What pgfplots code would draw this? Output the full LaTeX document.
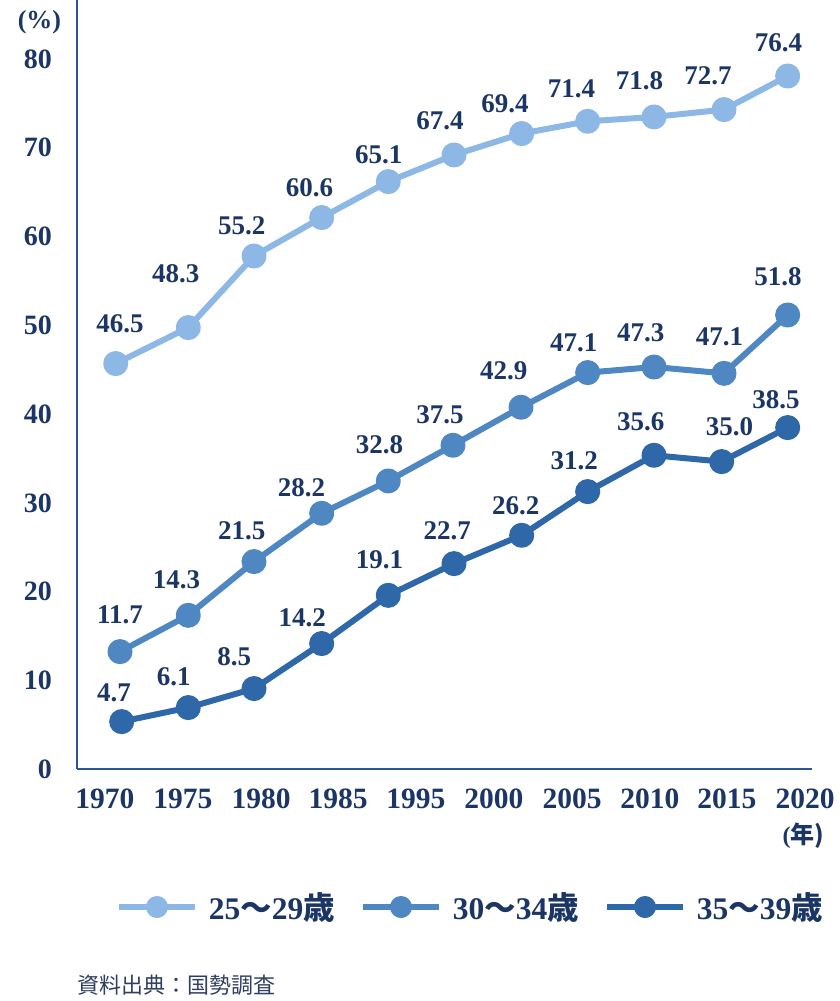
\documentclass[border=0pt]{standalone}
\usepackage{fontspec}
\setmainfont{Liberation Serif}
\newfontfamily\cjk{Noto Sans CJK JP}
\usepackage{pgfplots}
\usepackage{pgfplotstable}
\pgfplotsset{compat=1.18}
\definecolor{cA}{HTML}{8DB8E6}
\definecolor{cB}{HTML}{4F87C2}
\definecolor{cC}{HTML}{2E68A8}
\definecolor{navy}{HTML}{1B3564}
\definecolor{axc}{HTML}{2B5797}
\definecolor{srcc}{HTML}{2F3F5F}

\pgfplotstableread{
x y
-0.004 45.69
1.076 49.74
2.054 57.80
3.061 62.13
4.052 66.18
5.030 69.18
6.037 71.59
7.019 72.97
8.006 73.46
9.048 74.29
9.995 78.07
}\sA
\pgfplotstableread{
x y
0.060 13.25
1.076 17.34
2.054 23.39
3.061 28.83
4.052 32.47
5.015 36.49
6.027 40.77
7.019 44.67
8.006 45.30
9.048 44.59
9.995 51.16
}\sB
\pgfplotstableread{
x y
0.085 5.37
1.076 6.95
2.054 9.09
3.061 14.16
4.052 19.59
5.030 23.16
6.037 26.35
7.019 31.27
8.006 35.36
9.013 34.65
9.995 38.48
}\sC
\pgfplotstableread{
x y l
0.06 50.19 46.5
0.89 55.82 48.3
1.87 61.26 55.2
2.88 65.51 60.6
3.91 69.18 65.1
4.82 73.01 67.4
5.79 74.97 69.4
6.78 76.58 71.4
7.79 77.51 71.8
8.81 78.15 72.7
9.86 81.83 76.4
0.06 17.38 11.7
0.90 21.40 14.3
1.87 26.84 21.5
2.76 31.72 28.2
3.92 36.52 32.8
4.82 39.98 37.5
5.77 44.93 42.9
6.81 48.05 47.1
7.81 49.18 47.3
8.98 48.68 47.1
9.85 55.44 51.8
-0.03 8.64 4.7
0.86 10.39 6.1
1.76 12.65 8.5
2.77 17.08 14.2
3.92 23.65 19.1
4.93 26.84 22.7
5.95 29.73 26.2
6.82 34.72 31.2
7.81 39.11 35.6
9.13 38.59 35.0
9.82 41.67 38.5
}\labs

\begin{document}
\begin{tikzpicture}
\useasboundingbox (-77pt,-231.7pt) rectangle (763pt,769.3pt);
\begin{axis}[
  at={(0pt,0pt)}, anchor=south west,
  scale only axis, width=735pt, height=769.3pt,
  xmin=-0.580, xmax=10.357, ymin=0, ymax=86.63,
  axis x line*=bottom, axis y line*=left,
  axis line style={draw=axc, line width=2pt, -},
  major tick length=0pt,
  ytick={0,10,...,80},
  xtick={-0.164,0.997,2.158,3.304,4.464,5.625,6.786,7.946,9.092,10.253},
  xticklabels={1970,1975,1980,1985,1995,2000,2005,2010,2015,2020},
  ticklabel style={text=navy, inner sep=0pt},
  yticklabel style={anchor=east, xshift=-25pt, font=\fontsize{28}{31}\selectfont\bfseries},
  xticklabel style={anchor=north, yshift=-19pt, font=\fontsize{29.5}{32}\selectfont\bfseries},
  /pgf/number format/assume math mode=true,
  clip=false,
  legend columns=3,
  legend style={draw=none, fill=none, inner sep=0pt, outer sep=0pt,
    at={(axis description cs:0.05306,-0.1790)}, anchor=west,
    font=\fontsize{31.5}{34}\selectfont\bfseries, text=navy,
    nodes={inner sep=0pt},
    /tikz/every odd column/.append style={column sep=11pt},
    /tikz/every even column/.append style={column sep=25pt}},
  legend image code/.code={\draw[mark repeat=2, mark phase=2, #1, mark size=8pt] plot coordinates {(0pt,0pt) (38pt,0pt) (76pt,0pt)};},
]
\addplot[color=cA, line width=6pt, line join=round, mark=*, mark size=9.5pt, mark options={draw=none, fill=cA}] table[x=x,y=y] {\sA};
\addlegendentry{25{\cjk 〜}29{\cjk 歳}}
\addplot[color=cB, line width=6pt, line join=round, mark=*, mark size=9.5pt, mark options={draw=none, fill=cB}] table[x=x,y=y] {\sB};
\addlegendentry{30{\cjk 〜}34{\cjk 歳}}
\addplot[color=cC, line width=6pt, line join=round, mark=*, mark size=9.5pt, mark options={draw=none, fill=cC}] table[x=x,y=y] {\sC};
\addlegendentry{35{\cjk 〜}39{\cjk 歳}}
\addplot[forget plot, draw=none, mark=none, nodes near coords, point meta=explicit symbolic,
  nodes near coords style={anchor=center, inner sep=0pt, font=\fontsize{27}{30}\selectfont\bfseries, text=navy}]
  table[x=x,y=y,meta=l] {\labs};
\end{axis}
\node[font=\fontsize{26}{30}\selectfont\bfseries, text=navy, inner sep=0pt] at (-37.5pt,746.8pt) {(\%)};
\node[font=\fontsize{24}{28}\selectfont\bfseries, text=navy, inner sep=0pt] at (726.5pt,-66.7pt) {(\cjk 年)};
\node[font=\cjk\fontsize{22}{26}\selectfont, text=srcc, inner sep=0pt, anchor=west] at (0pt,-215.7pt) {資料出典：国勢調査};
\end{tikzpicture}
\end{document}
